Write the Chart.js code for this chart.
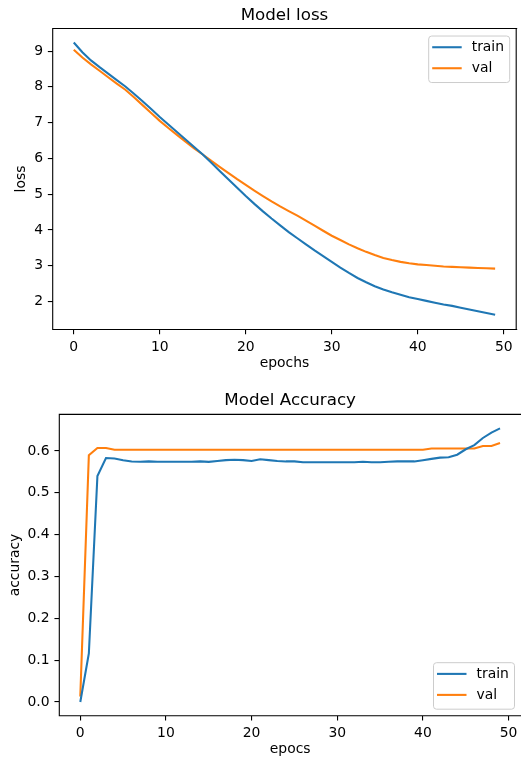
<!DOCTYPE html>
<html>
<head>
<meta charset="utf-8">
<script src="https://cdn.jsdelivr.net/npm/chart.js@4.4.0/dist/chart.umd.min.js"></script>
<style>
  html, body { margin: 0; padding: 0; background: #fff; }
  canvas { display: block; }
</style>
</head>
<body>
<canvas id="lossChart" width="521" height="380"></canvas>
<canvas id="accChart" width="521" height="381"></canvas>
<script>
// Data
const epochs = [0, 1, 2, 3, 4, 5, 6, 7, 8, 9, 10, 11, 12, 13, 14, 15, 16, 17, 18, 19,
  20, 21, 22, 23, 24, 25, 26, 27, 28, 29, 30, 31, 32, 33, 34, 35, 36, 37, 38, 39,
  40, 41, 42, 43, 44, 45, 46, 47, 48, 49];

const trainLoss = [9.24, 8.97, 8.74, 8.55, 8.37, 8.19, 8.01, 7.81, 7.60, 7.38,
  7.16, 6.95, 6.74, 6.53, 6.32, 6.11, 5.88, 5.64, 5.41, 5.18,
  4.95, 4.73, 4.52, 4.32, 4.13, 3.94, 3.77, 3.60, 3.43, 3.27,
  3.11, 2.95, 2.80, 2.66, 2.54, 2.43, 2.34, 2.26, 2.19, 2.12,
  2.07, 2.02, 1.97, 1.92, 1.88, 1.83, 1.78, 1.73, 1.68, 1.63];
const valLoss = [9.04, 8.82, 8.63, 8.45, 8.27, 8.09, 7.92, 7.71, 7.49, 7.27,
  7.05, 6.85, 6.66, 6.47, 6.28, 6.11, 5.93, 5.76, 5.59, 5.42,
  5.26, 5.10, 4.95, 4.80, 4.66, 4.53, 4.40, 4.26, 4.12, 3.98,
  3.84, 3.72, 3.60, 3.49, 3.39, 3.30, 3.22, 3.16, 3.11, 3.07,
  3.04, 3.02, 3.00, 2.98, 2.97, 2.96, 2.95, 2.94, 2.93, 2.92];

const trainAcc = [0.000, 0.116, 0.540, 0.583, 0.582, 0.578, 0.575, 0.574, 0.575, 0.574,
  0.574, 0.574, 0.574, 0.574, 0.575, 0.574, 0.576, 0.578, 0.579, 0.578,
  0.576, 0.580, 0.578, 0.576, 0.575, 0.575, 0.573, 0.573, 0.573, 0.573,
  0.573, 0.573, 0.573, 0.574, 0.573, 0.573, 0.574, 0.575, 0.575, 0.575,
  0.578, 0.581, 0.584, 0.585, 0.591, 0.604, 0.614, 0.631, 0.644, 0.654];
const valAcc = [0.013, 0.590, 0.607, 0.607, 0.603, 0.603, 0.603, 0.603, 0.603, 0.603,
  0.603, 0.603, 0.603, 0.603, 0.603, 0.603, 0.603, 0.603, 0.603, 0.603,
  0.603, 0.603, 0.603, 0.603, 0.603, 0.603, 0.603, 0.603, 0.603, 0.603,
  0.603, 0.603, 0.603, 0.603, 0.603, 0.603, 0.603, 0.603, 0.603, 0.603,
  0.603, 0.606, 0.606, 0.606, 0.606, 0.606, 0.606, 0.612, 0.612, 0.619];

const lossTicks = [2, 3, 4, 5, 6, 7, 8, 9];
const accTicks = [0.0, 0.1, 0.2, 0.3, 0.4, 0.5, 0.6];
const epochTicks = [0, 10, 20, 30, 40, 50];

const BLUE = '#1f77b4';
const ORANGE = '#ff7f0e';
const FONT = 'DejaVu Sans';

Chart.defaults.color = '#000';
Chart.defaults.font.family = FONT;

// Frame around the plot area (matplotlib spines); the right one is
// skipped when it falls off the edge of the canvas
const framePlugin = {
  id: 'frame',
  afterDraw(chart) {
    const { ctx, chartArea: a } = chart;
    ctx.save();
    ctx.strokeStyle = '#000';
    ctx.lineWidth = 1.1;
    ctx.beginPath();
    ctx.moveTo(a.right + 1, a.top);
    ctx.lineTo(a.left, a.top);
    ctx.lineTo(a.left, a.bottom);
    ctx.lineTo(a.right + 1, a.bottom);
    if (a.right < chart.width - 1) {
      ctx.moveTo(a.right, a.top);
      ctx.lineTo(a.right, a.bottom);
    }
    ctx.stroke();
    ctx.restore();
  }
};

// Boxed legend drawn inside the plot area
const boxLegend = {
  id: 'boxLegend',
  afterDraw(chart, args, opts) {
    const { ctx, chartArea: a } = chart;
    const w = 81, h = 46.5, m = 7;
    const left = a.right - m - w;
    const top = opts.corner === 'lr' ? a.bottom - m - h : a.top + m;
    ctx.save();
    ctx.beginPath();
    ctx.roundRect(left + 0.5, top + 0.5, w, h, 3);
    ctx.fillStyle = 'rgba(255,255,255,0.8)';
    ctx.fill();
    ctx.strokeStyle = '#cccccc';
    ctx.lineWidth = 1;
    ctx.stroke();
    ctx.font = '13.9px "' + FONT + '"';
    ctx.textBaseline = 'middle';
    chart.data.datasets.forEach((ds, i) => {
      const y = top + 11.7 + i * 21;
      ctx.beginPath();
      ctx.moveTo(left + 4, y);
      ctx.lineTo(left + 33.5, y);
      ctx.strokeStyle = ds.borderColor;
      ctx.lineWidth = 2.08;
      ctx.stroke();
      ctx.fillStyle = '#000';
      ctx.fillText(ds.label, left + 43.5, y + 0.5);
    });
    ctx.restore();
  }
};

function series(label, values, color) {
  return {
    label: label,
    data: epochs.map((e, i) => ({ x: e, y: values[i] })),
    borderColor: color,
    backgroundColor: color,
    borderWidth: 2.08,
    pointRadius: 0,
    tension: 0
  };
}

function makeOptions(cfg) {
  const tickFont = { size: 13.9, family: FONT };
  return {
    responsive: false,
    animation: false,
    events: [],
    layout: { padding: { left: 0, right: cfg.padRight, top: 0, bottom: 0 } },
    plugins: {
      legend: { display: false },
      tooltip: { enabled: false },
      title: {
        display: true,
        text: cfg.title,
        fullSize: false,
        font: { size: 16.7, weight: 'normal', family: FONT },
        padding: cfg.titlePad
      },
      boxLegend: { corner: cfg.corner }
    },
    scales: {
      x: {
        type: 'linear',
        min: -2.45,
        max: 51.45,
        // fixed axis height, no extra label padding
        afterFit: (s) => { s.height = cfg.xHeight; s.paddingLeft = 0; s.paddingRight = 0; },
        afterBuildTicks: (s) => { s.ticks = epochTicks.map(v => ({ value: v })); },
        ticks: { font: tickFont, padding: 4.86, maxRotation: 0, color: '#000' },
        grid: { drawOnChartArea: false, drawTicks: true, tickLength: 4.86, color: '#000', lineWidth: 1.1 },
        border: { display: false },
        title: {
          display: true,
          text: cfg.xLabel,
          font: { size: 13.9, family: FONT },
          padding: { top: 0, bottom: cfg.xTitlePad }
        }
      },
      y: {
        type: 'linear',
        min: cfg.yMin,
        max: cfg.yMax,
        afterFit: (s) => { s.width = cfg.yWidth; s.paddingTop = 0; s.paddingBottom = 0; },
        afterBuildTicks: (s) => { s.ticks = cfg.yTicks.map(v => ({ value: v })); },
        ticks: {
          font: tickFont,
          padding: 4.86,
          color: '#000',
          callback: cfg.yFmt
        },
        grid: { drawOnChartArea: false, drawTicks: true, tickLength: 4.86, color: '#000', lineWidth: 1.1 },
        border: { display: false },
        title: {
          display: true,
          text: cfg.yLabel,
          font: { size: 13.9, family: FONT },
          padding: { top: cfg.yTitlePad, bottom: 0 }
        }
      }
    }
  };
}

// Model loss
new Chart(document.getElementById('lossChart').getContext('2d'), {
  type: 'line',
  data: {
    datasets: [series('train', trainLoss, BLUE), series('val', valLoss, ORANGE)]
  },
  options: makeOptions({
    title: 'Model loss',
    titlePad: { top: 5.5, bottom: 3 },
    padRight: 4.8,
    xHeight: 50.5,
    xLabel: 'epochs',
    xTitlePad: 8.15,
    yMin: 1.22,
    yMax: 9.63,
    yWidth: 52.7,
    yTicks: lossTicks,
    yLabel: 'loss',
    yTitlePad: 13.35,
    yFmt: (v) => String(v),
    corner: 'ur'
  }),
  plugins: [framePlugin, boxLegend]
});

// Model Accuracy (plot frame runs just past the right edge of the figure)
new Chart(document.getElementById('accChart').getContext('2d'), {
  type: 'line',
  data: {
    datasets: [series('train', trainAcc, BLUE), series('val', valAcc, ORANGE)]
  },
  options: makeOptions({
    title: 'Model Accuracy',
    titlePad: { top: 11, bottom: 3.3 },
    padRight: -0.5,
    xHeight: 45.3,
    xLabel: 'epocs',
    xTitlePad: 2.95,
    yMin: -0.0327,
    yMax: 0.6875,
    yWidth: 59.3,
    yTicks: accTicks,
    yLabel: 'accuracy',
    yTitlePad: 7.15,
    yFmt: (v) => Number(v).toFixed(1),
    corner: 'lr'
  }),
  plugins: [framePlugin, boxLegend]
});
</script>
</body>
</html>
